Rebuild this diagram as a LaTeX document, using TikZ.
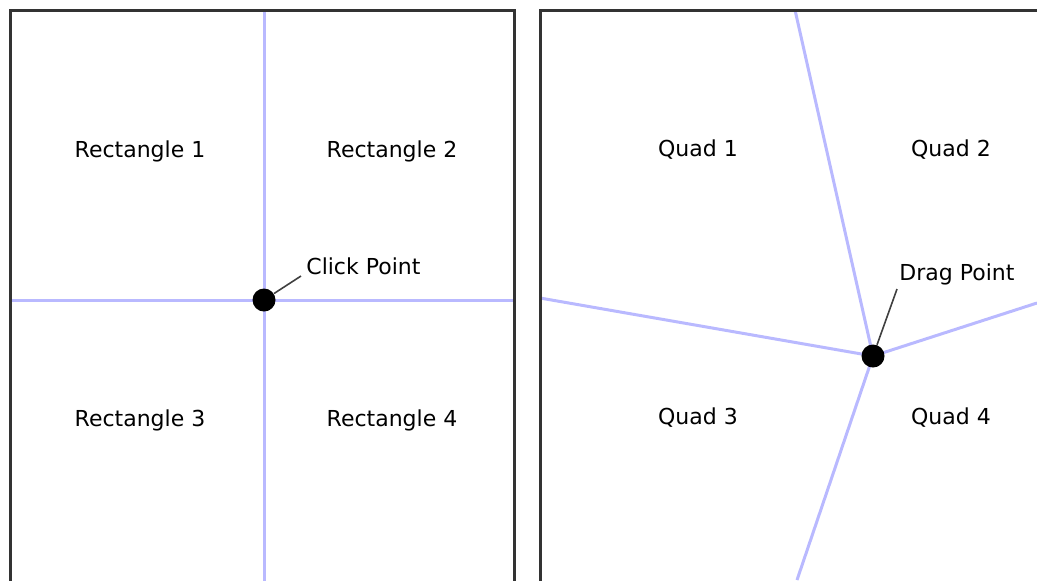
\documentclass[tikz,border=0pt]{standalone}
\usepackage{fontspec}
\setmainfont{DejaVu Sans}
\tikzset{
  divider/.style={line width=1.5pt, draw={rgb,255:red,185;green,185;blue,255}},
  frame/.style={line width=1.5pt, draw=black!80},
  handle/.style={circle, fill=black, inner sep=0pt, minimum size=11.5pt},
  leader/.style={line width=0.8pt, draw=black!75},
  region/.style={font=\fontsize{11}{13}\selectfont},
}
\begin{document}
\begin{tikzpicture}[x=0.5pt,y=-0.5pt]
    \useasboundingbox (0,0) rectangle (1037,580);
    \clip (0,0) rectangle (1037,580);

    % Kotak kiri: pembagian persegi panjang
    \coordinate (lt) at (264,10);
    \coordinate (lb) at (264,590);
    \coordinate (ll) at (10,300);
    \coordinate (lr) at (514,300);
    \draw[divider] (lt) -- (lb);
    \draw[divider] (ll) -- (lr);
    \draw[frame] (10,590) -- (10,10) -- (514,10) -- (514,590);
    \node[handle] (click) at (264,300) {};

    % Label daerah kiri
    \node[region] (r1) at (140,151) {Rectangle 1};
    \node[region] (r2) at (392,151) {Rectangle 2};
    \node[region] (r3) at (140,420) {Rectangle 3};
    \node[region] (r4) at (392,420) {Rectangle 4};

    % Titik klik
    \node[region, anchor=west, inner sep=1pt] (clicklabel) at (304,266) {Click Point};
    \coordinate (clicktip) at (301,276);
    \draw[leader] (click) -- (clicktip);

    % Kotak kanan: pembagian segi empat
    \coordinate (rt) at (795,10);
    \coordinate (rb) at (797,580);
    \coordinate (rl) at (540,298);
    \coordinate (rr) at (1037,303);
    \coordinate (dragc) at (873,356);
    \draw[divider] (rt) -- (dragc) -- (rb);
    \draw[divider] (rl) -- (dragc) -- (rr);
    \draw[frame] (540,590) -- (540,10) -- (1045,10);
    \node[handle] (drag) at (dragc) {};

    % Label daerah kanan
    \node[region] (q1) at (698,150) {Quad 1};
    \node[region] (q2) at (951,150) {Quad 2};
    \node[region] (q3) at (698,418) {Quad 3};
    \node[region] (q4) at (951,418) {Quad 4};

    % Titik seret
    \node[region, anchor=west, inner sep=1pt] (draglabel) at (897,274) {Drag Point};
    \coordinate (dragtip) at (897,289);
    \draw[leader] (drag) -- (dragtip);

\end{tikzpicture}
\end{document}
